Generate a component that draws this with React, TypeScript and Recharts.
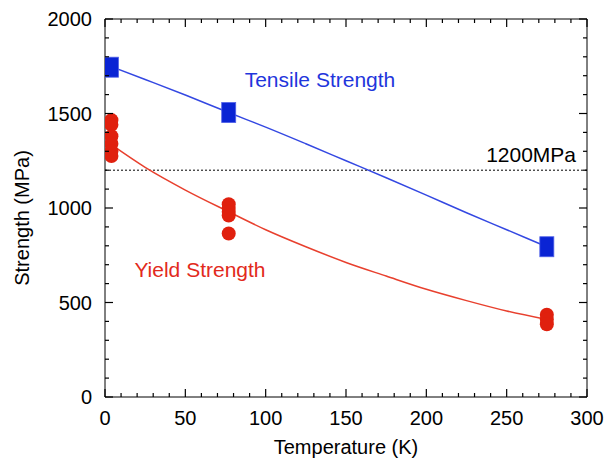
import React from "react"
import {
  ComposedChart,
  Line,
  Scatter,
  XAxis,
  YAxis,
  ReferenceLine,
  ReferenceDot,
} from "recharts"

// measured points (K, MPa)
const tensileTemps = [4, 77, 275]
const tensileValues = [1745, 1505, 795]

const yieldAt4 = [1465, 1440, 1380, 1340, 1300, 1275]
const yieldAt77 = [1020, 1000, 980, 960, 865]
const yieldAt275 = [435, 410, 385]

// fitted curves
const fitTemps = [4, 25, 50, 77, 100, 125, 150, 175, 200, 225, 250, 275]
const tensileFit = [1748, 1680, 1598, 1505, 1428, 1340, 1250, 1160, 1068, 975, 885, 795]
const yieldFit = [1335, 1215, 1095, 980, 885, 795, 712, 640, 570, 510, 455, 410]

const xTicks = [0, 10, 20, 30, 40, 50, 60, 70, 80, 90, 100, 110, 120, 130, 140, 150, 160, 170, 180, 190, 200, 210, 220, 230, 240, 250, 260, 270, 280, 290, 300]
const xLabels = [0, 50, 100, 150, 200, 250, 300]
const yTicks = [0, 100, 200, 300, 400, 500, 600, 700, 800, 900, 1000, 1100, 1200, 1300, 1400, 1500, 1600, 1700, 1800, 1900, 2000]
const yLabels = [0, 500, 1000, 1500, 2000]

const FONT = "'Liberation Sans', Arial, Helvetica, sans-serif"
const BLUE = "#0a24d4"
const RED = "#e0200e"

const tensilePoints = tensileTemps.map((t, i) => ({ x: t, y: tensileValues[i] }))
const yieldPoints = [
  ...yieldAt4.map((v) => ({ x: 4, y: v })),
  ...yieldAt77.map((v) => ({ x: 77, y: v })),
  ...yieldAt275.map((v) => ({ x: 275, y: v })),
]
const tensileLine = fitTemps.map((t, i) => ({ x: t, y: tensileFit[i] }))
const yieldLine = fitTemps.map((t, i) => ({ x: t, y: yieldFit[i] }))

const TM = 14

const BottomTick = (props: any) => {
  const { x, y, payload } = props
  const major = xLabels.includes(payload.value)
  const ax = Number(y) - TM
  return (
    <g>
      <path d={`M${x},${ax}V${ax - (major ? 8 : 4)}`} stroke="#000" strokeWidth={1.2} fill="none" />
      {major && (
        <text x={x} y={Number(y) + 14} textAnchor="middle" fontSize={20} fill="#000" fontFamily={FONT}>
          {payload.value}
        </text>
      )}
    </g>
  )
}

const TopTick = (props: any) => {
  const { x, y, payload } = props
  const major = xLabels.includes(payload.value)
  const ax = Number(y)
  return <path d={`M${x},${ax}V${ax + (major ? 8 : 4)}`} stroke="#000" strokeWidth={1.2} fill="none" />
}

const LeftTick = (props: any) => {
  const { x, y, payload } = props
  const major = yLabels.includes(payload.value)
  const ax = Number(x) + 13
  return (
    <g>
      <path d={`M${ax},${y}H${ax + (major ? 8 : 4)}`} stroke="#000" strokeWidth={1.2} fill="none" />
      {major && (
        <text x={x} y={y} dy="0.36em" textAnchor="end" fontSize={20} fill="#000" fontFamily={FONT}>
          {payload.value}
        </text>
      )}
    </g>
  )
}

const RightTick = (props: any) => {
  const { x, y, payload } = props
  const major = yLabels.includes(payload.value)
  const ax = Number(x)
  return <path d={`M${ax},${y}H${ax - (major ? 8 : 4)}`} stroke="#000" strokeWidth={1.2} fill="none" />
}

const Square = ({ cx, cy }: any) => (
  <rect x={cx - 7} y={cy - 10} width={14} height={20} fill={BLUE} stroke="#5060e8" strokeWidth={0.8} />
)

const Dot = ({ cx, cy }: any) => <circle cx={cx} cy={cy} r={7} fill={RED} />

export default function App() {
  return (
    <div style={{ position: "absolute", left: 0, top: 0, width: 616, height: 465, background: "#fff" }}>
      <ComposedChart width={616} height={465} margin={{ top: 18, right: 28, bottom: 0, left: 0 }}>
        <XAxis
          xAxisId="b"
          dataKey="x"
          type="number"
          domain={[0, 300]}
          ticks={xTicks}
          interval={0}
          tickSize={0}
          tickMargin={TM}
          tickLine={false}
          tick={BottomTick}
          height={68}
          stroke="#000"
          allowDataOverflow
        />
        <XAxis
          xAxisId="t"
          orientation="top"
          dataKey="x"
          type="number"
          domain={[0, 300]}
          ticks={xTicks}
          interval={0}
          tickSize={0}
          tickMargin={0}
          tickLine={false}
          tick={TopTick}
          height={1}
          stroke="#000"
          allowDataOverflow
        />
        <YAxis
          yAxisId="l"
          type="number"
          domain={[0, 2000]}
          ticks={yTicks}
          interval={0}
          tickSize={0}
          tickMargin={13}
          tickLine={false}
          tick={LeftTick}
          width={105}
          stroke="#000"
          allowDataOverflow
          label={{
            value: "Strength (MPa)",
            content: () => (
              <text
                x={22}
                y={218}
                transform="rotate(-90 22 218)"
                textAnchor="middle"
                dy="0.36em"
                fontSize={20}
                fill="#000"
                fontFamily={FONT}
              >
                Strength (MPa)
              </text>
            ),
          }}
        />
        <YAxis
          yAxisId="r"
          orientation="right"
          type="number"
          domain={[0, 2000]}
          ticks={yTicks}
          interval={0}
          tickSize={0}
          tickMargin={0}
          tickLine={false}
          tick={RightTick}
          width={1}
          stroke="#000"
          allowDataOverflow
        />
        <ReferenceLine
          xAxisId="b"
          yAxisId="l"
          y={1200}
          stroke="#000"
          strokeWidth={1}
          strokeDasharray="2 2"
        />
        <Line
          xAxisId="b"
          yAxisId="l"
          data={tensileLine}
          dataKey="y"
          type="monotone"
          stroke="#3448e2"
          strokeWidth={1.5}
          dot={false}
          isAnimationActive={false}
        />
        <Line
          xAxisId="b"
          yAxisId="l"
          data={yieldLine}
          dataKey="y"
          type="monotone"
          stroke="#e8402e"
          strokeWidth={1.5}
          dot={false}
          isAnimationActive={false}
        />
        <Scatter
          xAxisId="b"
          yAxisId="l"
          data={yieldPoints}
          dataKey="y"
          shape={<Dot />}
          isAnimationActive={false}
        />
        <Scatter
          xAxisId="b"
          yAxisId="l"
          data={tensilePoints}
          dataKey="y"
          shape={<Square />}
          isAnimationActive={false}
        />
        <ReferenceDot
          xAxisId="b"
          yAxisId="l"
          x={133.8}
          y={1679}
          r={0}
          fill="none"
          stroke="none"
          label={{ value: "Tensile Strength", position: "center", fill: "#1f36dc", fontSize: 21, fontFamily: FONT }}
        />
        <ReferenceDot
          xAxisId="b"
          yAxisId="l"
          x={59.1}
          y={673}
          r={0}
          fill="none"
          stroke="none"
          label={{ value: "Yield Strength", position: "center", fill: "#e22a1c", fontSize: 21, fontFamily: FONT }}
        />
        <ReferenceDot
          xAxisId="b"
          yAxisId="l"
          x={293.2}
          y={1283}
          r={0}
          fill="none"
          stroke="none"
          label={{ value: "1200MPa", position: "left", offset: 0, fill: "#000", fontSize: 21, fontFamily: FONT }}
        />
        <text x={346} y={454} textAnchor="middle" fontSize={20} fill="#000" fontFamily={FONT}>
          Temperature (K)
        </text>
      </ComposedChart>
    </div>
  )
}
